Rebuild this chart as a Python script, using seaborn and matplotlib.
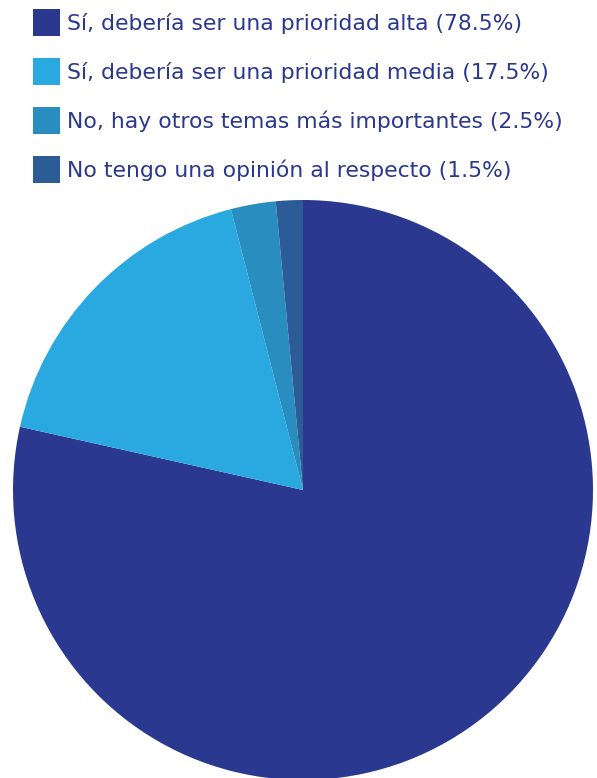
import matplotlib
matplotlib.use('Agg')
import matplotlib.pyplot as plt
import seaborn as sns

labels = ['Sí, debería ser una prioridad alta (78.5%)',
          'Sí, debería ser una prioridad media (17.5%)',
          'No, hay otros temas más importantes (2.5%)',
          'No tengo una opinión al respecto (1.5%)']
values = [78.5, 17.5, 2.5, 1.5]
colors = ['#2B388F', '#29A9E0', '#2A8DBF', '#2B5C96']

sns.set_theme(style='white')
plt.rcParams['font.family'] = ['DejaVu Sans']

fig = plt.figure(figsize=(5.97, 7.78), dpi=100)
ax = fig.add_axes([13 / 597, -2 / 778, 580 / 597, 580 / 778])
pal = sns.color_palette(colors)
wedges, _ = ax.pie(values, colors=pal, startangle=90, counterclock=False,
                   radius=1, wedgeprops={'linewidth': 0})
ax.set_xlim(-1, 1)
ax.set_ylim(-1, 1)
ax.set_aspect('equal')
ax.axis('off')

fs = 15.75
leg = fig.legend(wedges, labels, loc='upper left',
                 bbox_to_anchor=(33 / 597, 1 - 9 / 778), frameon=False,
                 fontsize=fs, labelcolor='#2B388F',
                 handlelength=1.23, handleheight=1.5, handletextpad=0.33,
                 labelspacing=1.02, borderaxespad=0, borderpad=0)

fig.savefig('out.png', dpi=100, facecolor='white')
